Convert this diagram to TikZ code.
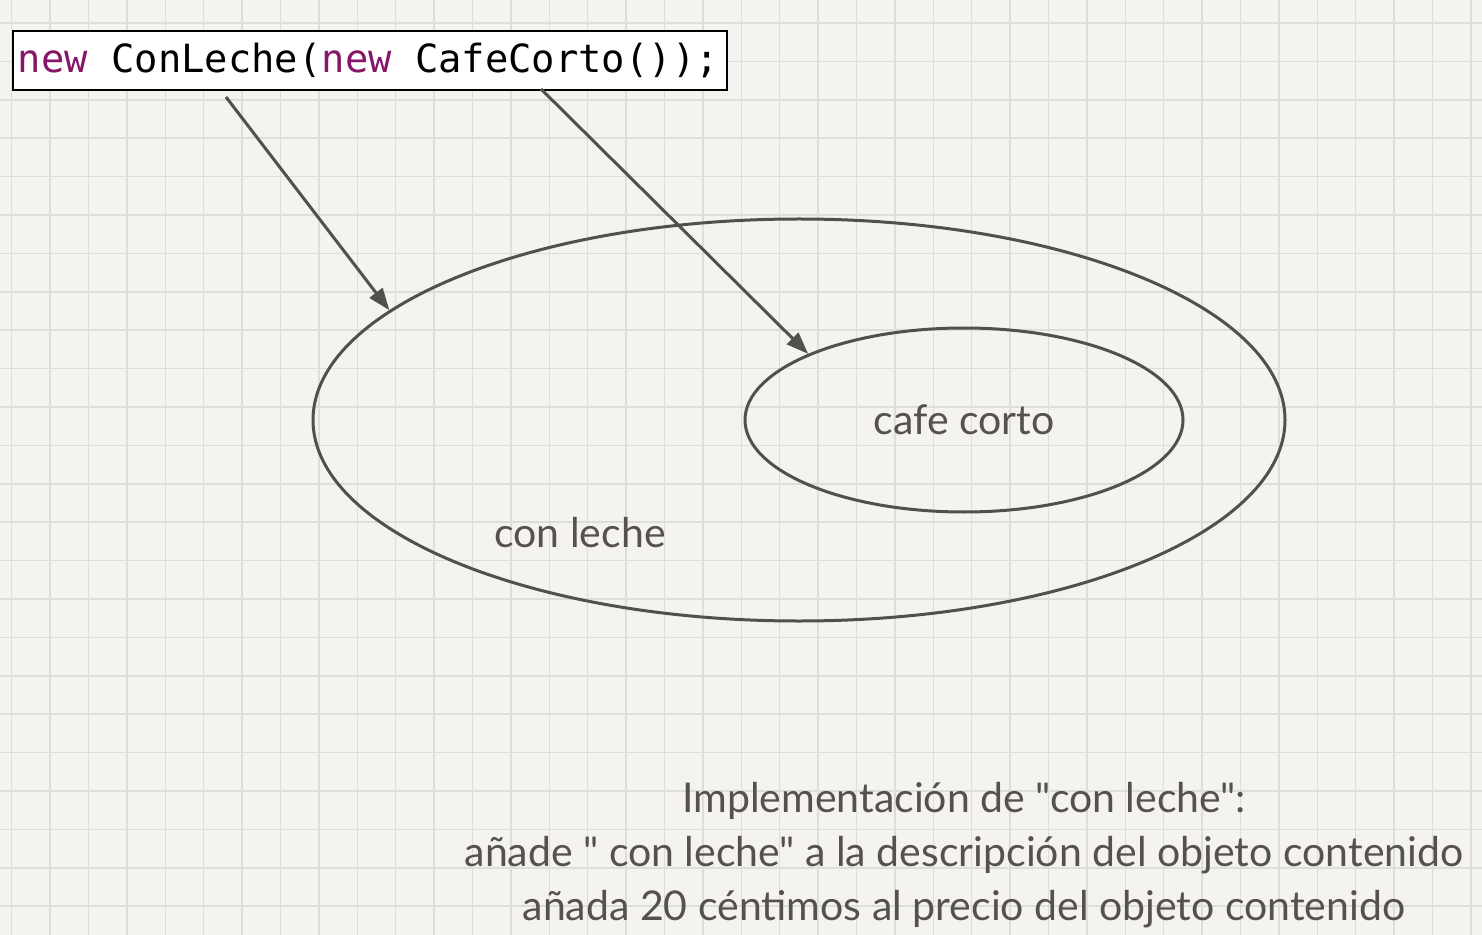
\documentclass[tikz,border=0pt]{standalone}
\usepackage{fontspec}
\setmainfont{Lato}[Ligatures=TeXOff]
\newfontfamily\codefont{DejaVu Sans Mono}
\usepackage{xcolor}
\usepackage{tikz}
\usetikzlibrary{shapes,arrows.meta,positioning,calc}

\definecolor{paper}{RGB}{244,243,239}
\definecolor{gridline}{RGB}{221,221,218}
\definecolor{ink}{RGB}{85,81,77}
\definecolor{keyword}{RGB}{135,22,105}
\definecolor{linegray}{RGB}{82,80,78}
\newcommand{\codesp}{\hphantom{x}}

\begin{document}
\begin{tikzpicture}[x=0.5pt, y=-0.5pt,
    setshape/.style={ellipse, draw=linegray, line width=1.5pt, inner sep=0pt},
    setname/.style={text=ink, font=\fontsize{20.5}{27}\selectfont},
    codebox/.style={draw=black, fill=white, line width=0.75pt, text width=352pt, inner xsep=2.5pt,
        minimum height=29.5pt, align=left, font=\codefont\fontsize{19.4}{22}\selectfont},
    pointer/.style={-{Triangle[length=11pt,width=8pt]}, line width=1.5pt, draw=linegray}]
    \useasboundingbox (0,0) rectangle (1482,935);
    % paper background
    \fill[paper] (0,0) rectangle (1482,935);
    \foreach \i in {0,...,38}
        \draw[gridline, line width=0.75pt] ({11.7+38.4*\i},0) -- ({11.7+38.4*\i},935);
    \foreach \j in {0,...,23}
        \draw[gridline, line width=0.75pt] (0,{23+38.4*\j}) -- (1482,{23+38.4*\j});

    % code line
    \node[codebox] (code) at (370,60.5) {\textcolor{keyword}{new}\codesp ConLeche(\textcolor{keyword}{new}\codesp CafeCorto());};

    % nested objects
    \node[setshape, minimum width=486pt, minimum height=201pt] (conleche) at (799,420) {};
    \node[setshape, minimum width=219pt, minimum height=92pt, setname] (cafecorto) at (964,420) {cafe corto};
    \node[setname] (conlechename) at (580,533) {con leche};

    % pointers
    \coordinate (from1) at (226,97);
    \coordinate (from2) at (541,89);
    \draw[pointer] (from1) -- (conleche.165);
    \draw[pointer] (from2) -- (cafecorto.157);

    \node[setname, align=center] (impl) at (964,855) {Implementación de "con leche":\\
        añade " con leche" a la descripción del objeto contenido\\
        añada 20 céntimos al precio del objeto contenido};
\end{tikzpicture}
\end{document}
